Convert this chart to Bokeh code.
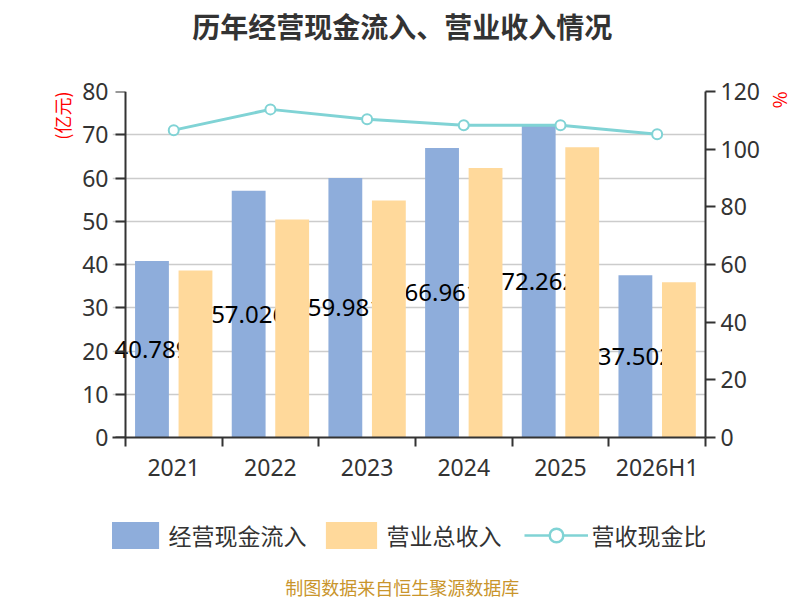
from bokeh.plotting import figure
from bokeh.layouts import column
from bokeh.models import (Range1d, LinearAxis, FixedTicker, Legend, LegendItem,
                          Title, Label, ColumnDataSource)
from bokeh.core.properties import value
from bokeh.embed import file_html
from bokeh.resources import INLINE

# ---- data ----
categories = ["2021", "2022", "2023", "2024", "2025", "2026H1"]
cash_inflow = [40.789, 57.026, 59.981, 66.961, 72.262, 37.502]   # 经营现金流入 (亿元)
revenue = [38.6, 50.4, 54.8, 62.3, 67.1, 35.9]                   # 营业总收入 (亿元)
ratio = [106.6, 113.8, 110.4, 108.3, 108.3, 105.2]               # 营收现金比 (%)
cash_labels = ["40.789", "57.026", "59.981", "66.961", "72.262", "37.502"]
left_ticks = [0, 10, 20, 30, 40, 50, 60, 70, 80]
right_ticks = [0, 20, 40, 60, 80, 100, 120]

FONT = "Noto Sans CJK SC"
NUMFONT = "Noto Sans"
BLUE = "#8eaddb"
ORANGE = "#ffd99b"
TEAL = "#80d3d5"
AXIS = "#333333"
W = 800

n = len(categories)
centers = [i + 0.5 for i in range(n)]
src = ColumnDataSource(dict(
    xc=centers,
    xb=[c - 0.225 for c in centers],
    xo=[c + 0.225 for c in centers],
    cash=cash_inflow,
    cash_mid=[v / 2 for v in cash_inflow],
    rev=revenue,
    ratio=ratio,
    lbl=cash_labels,
))


def text_fig(h):
    f = figure(width=W, height=h, output_backend="svg", toolbar_location=None,
               x_range=Range1d(0, W), y_range=Range1d(0, h),
               x_axis_location=None, y_axis_location=None,
               min_border=0, min_border_left=0, min_border_right=0,
               min_border_top=0, min_border_bottom=0)
    f.grid.visible = False
    f.outline_line_color = None
    f.title.visible = False
    return f


# ---- header (title) ----
HEAD_H = 50
head = text_fig(HEAD_H)
head.add_layout(Label(x=391, y=HEAD_H - 25, text="历年经营现金流入、营业收入情况",
                      text_font=FONT, text_font_size="28px",
                      text_font_style="bold", text_color=AXIS,
                      text_align="center", text_baseline="middle"))

# ---- main chart ----
MAIN_H = 435
# the frame starts a little left of the value axis so the first bar label is
# not cut; the value axis line is pinned at x = 0
X_LEFT = -13 / 97.5
p = figure(width=W, height=MAIN_H, output_backend="svg", toolbar_location=None,
           x_range=Range1d(X_LEFT, n), y_range=Range1d(0, 80),
           min_border_left=112, min_border_right=90, min_border_top=41,
           min_border_bottom=45)
p.outline_line_color = None
p.title.visible = False
p.extra_y_ranges = {"pct": Range1d(0, 120)}

r_cash = p.vbar(x="xb", top="cash", width=0.35, source=src, fill_color=BLUE,
                line_color=None)
p.text(x="xb", y="cash_mid", text="lbl", source=src, text_align="center",
       text_baseline="middle", text_font=value(NUMFONT), text_font_size="24px",
       text_color="black")
r_rev = p.vbar(x="xo", top="rev", width=0.35, source=src, fill_color=ORANGE,
               line_color=None)
p.line(x="xc", y="ratio", source=src, y_range_name="pct",
       line_color=TEAL, line_width=3)
p.scatter(x="xc", y="ratio", source=src, y_range_name="pct", size=10,
          fill_color="white", line_color=TEAL, line_width=2)

xa = p.xaxis[0]
xa.ticker = FixedTicker(ticks=centers, minor_ticks=list(range(n + 1)))
xa.major_label_overrides = {c: categories[i] for i, c in enumerate(centers)}
xa.major_tick_line_color = None
xa.major_tick_out = 9
xa.major_tick_in = 0
xa.minor_tick_out = 9
xa.minor_tick_in = 0
xa.minor_tick_line_color = AXIS
xa.minor_tick_line_width = 2
xa.major_label_standoff = 4

# value axis: line + tick marks pinned at x = 0 (labels on a separate axis)
ya = p.yaxis[0]
ya.ticker = FixedTicker(ticks=[], minor_ticks=left_ticks)
ya.fixed_location = 0
ya.major_tick_line_color = None
ya.minor_tick_line_color = AXIS
ya.minor_tick_line_width = 2
ya.minor_tick_out = 10
ya.minor_tick_in = 0
# labels-only axis at the frame edge
ya_lbl = LinearAxis(ticker=FixedTicker(ticks=left_ticks), axis_line_color=None,
                    major_tick_line_color=None, minor_tick_line_color=None,
                    major_tick_out=0, major_tick_in=0, minor_tick_out=0,
                    minor_tick_in=0, major_label_standoff=4)
ra = LinearAxis(y_range_name="pct", ticker=FixedTicker(ticks=right_ticks))
p.add_layout(ra, "right")

for ax in (xa, ya, ra):
    ax.axis_line_color = AXIS
    ax.axis_line_width = 2
for ax in (xa, ya_lbl, ra):
    ax.major_label_text_font = NUMFONT
    ax.major_label_text_font_size = "23px"
    ax.major_label_text_color = AXIS
ra.major_tick_line_color = AXIS
ra.major_tick_line_width = 2
ra.major_tick_out = 10
ra.major_tick_in = 0
ra.minor_tick_line_color = None
ra.major_label_standoff = 5

p.xgrid.grid_line_color = None
p.ygrid.grid_line_color = "#cccccc"
p.ygrid.grid_line_width = 1.5
p.ygrid.ticker = FixedTicker(ticks=left_ticks)

unit_left = Title(text="(亿元)", text_font=FONT, text_font_size="18px",
                  text_color="red", text_font_style="normal", align="right")
p.left = [ya_lbl, unit_left, ya]
p.add_layout(Title(text="%", text_font=FONT, text_font_size="18px",
                   text_color="red", text_font_style="normal", align="left"),
             "right")

# ---- footer (legend + source note) ----
FOOT_H = 600 - HEAD_H - MAIN_H
foot = text_fig(FOOT_H)
foot.extra_y_ranges = {"off": Range1d(10000, 20000)}
l_cash = foot.vbar(x="xb", top="cash", width=0.35, source=src,
                   fill_color=BLUE, line_color=None, y_range_name="off")
l_rev = foot.vbar(x="xo", top="rev", width=0.35, source=src,
                  fill_color=ORANGE, line_color=None, y_range_name="off")
l_line = foot.line(x="xc", y="ratio", source=src, line_color=TEAL,
                   line_width=2.5, y_range_name="off")
l_pt = foot.scatter(x="xc", y="ratio", source=src, size=22,
                    fill_color="white", line_color=TEAL, line_width=2.5,
                    y_range_name="off")
legend = Legend(items=[
    LegendItem(label="经营现金流入", renderers=[l_cash]),
    LegendItem(label="营业总收入", renderers=[l_rev]),
    LegendItem(label="营收现金比", renderers=[l_line, l_pt]),
], location="top_center", orientation="horizontal", padding=0, margin=33,
    spacing=12, label_standoff=4, label_width=125, glyph_width=64,
    glyph_height=34, label_height=34, label_text_font=FONT,
    label_text_font_size="23px", label_text_color=AXIS,
    label_text_baseline="middle", border_line_color=None,
    background_fill_alpha=0)
foot.add_layout(legend)
foot.add_layout(Label(x=391, y=14, text="制图数据来自恒生聚源数据库",
                      text_font=FONT, text_font_size="18px",
                      text_color="#c9952c", text_align="center",
                      text_baseline="middle"))

page = column(head, p, foot, spacing=0)
open("out.html", "w").write(file_html(page, INLINE))
